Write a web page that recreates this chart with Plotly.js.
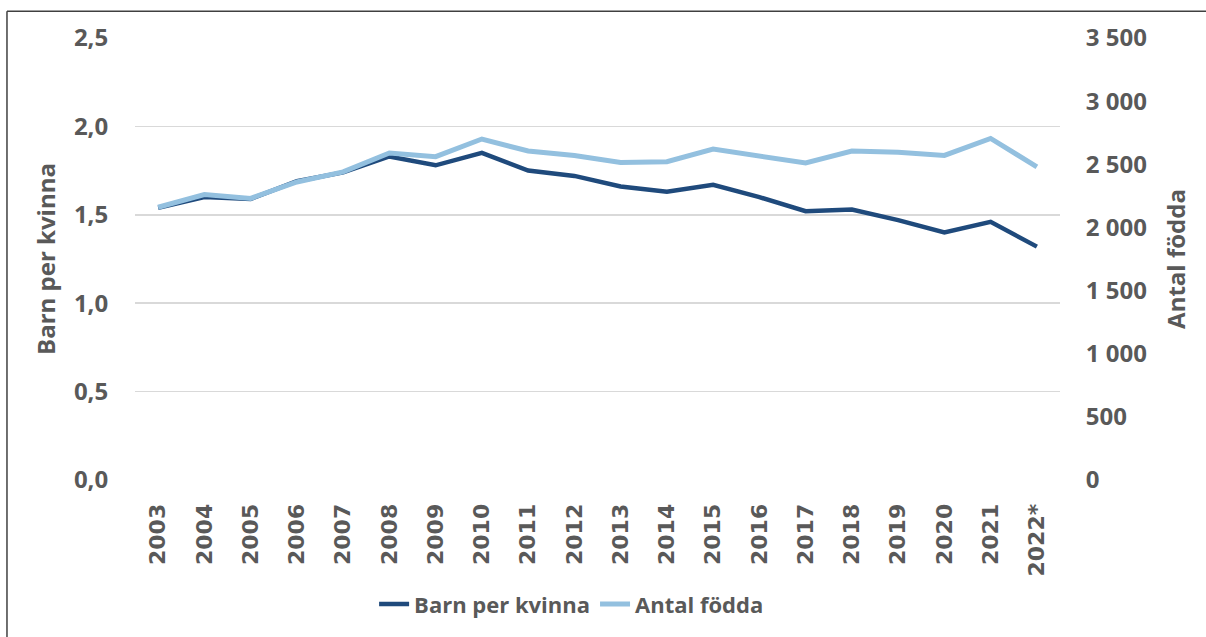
<!DOCTYPE html>
<html>
<head>
<meta charset="utf-8">
<script src="https://cdn.plot.ly/plotly-3.0.1.min.js"></script>
<style>
html,body{margin:0;padding:0;background:#fff;}
#chart{width:1206px;height:637px;}
</style>
</head>
<body>
<div id="chart"></div>
<script>
const years = ["2003","2004","2005","2006","2007","2008","2009","2010","2011","2012","2013","2014","2015","2016","2017","2018","2019","2020","2021","2022*"];
const barnPerKvinna = [1.54,1.60,1.59,1.69,1.74,1.83,1.78,1.85,1.75,1.72,1.66,1.63,1.67,1.60,1.52,1.53,1.47,1.40,1.46,1.32];
const antalFodda = [2160,2260,2230,2360,2440,2590,2560,2700,2605,2570,2515,2520,2620,2565,2510,2605,2595,2570,2705,2480];
const leftTicks = [0,0.5,1.0,1.5,2.0,2.5];
const rightTicks = [0,500,1000,1500,2000,2500,3000,3500];

const gray = '#595959';
const fam = '"Open Sans", "Liberation Sans", sans-serif';
const tickFont = {family:fam, size:24, color:gray, weight:'bold'};

const traces = [
  {x: years, y: barnPerKvinna, name:'Barn per kvinna', type:'scatter', mode:'lines',
   line:{color:'#1f4a7c', width:4.5}, yaxis:'y'},
  {x: years, y: antalFodda, name:'Antal födda', type:'scatter', mode:'lines',
   line:{color:'#93c0df', width:5}, yaxis:'y2'}
];

const layout = {
  width:1206, height:637,
  margin:{l:135, r:146, t:38, b:154},
  paper_bgcolor:'#fff', plot_bgcolor:'#fff',
  separators:', ',
  showlegend:true,
  legend:{orientation:'h', x:0.472, xanchor:'center', y:-0.281, yanchor:'middle',
          font:{family:fam, size:22, color:gray, weight:'bold'},
          itemwidth:30},
  xaxis:{type:'category', range:[-0.5,19.5], tickangle:-90, showgrid:false, zeroline:false,
         showline:false, ticks:'outside', ticklen:14, tickcolor:'rgba(0,0,0,0)',
         tickfont:{family:'"DejaVu Sans", sans-serif', size:22, color:gray, weight:'bold'}},
  yaxis:{range:[0,2.5], tickvals:leftTicks, tickformat:'.1f', showgrid:true, gridcolor:'#d9d9d9', gridwidth:1.5,
         zeroline:false, showline:false, ticks:'outside', ticklen:21, tickcolor:'rgba(0,0,0,0)',
         tickfont:tickFont,
         title:{text:'Barn per kvinna', standoff:11, font:{family:fam, size:24, color:gray, weight:'bold'}}},
  yaxis2:{range:[0,3500], tickvals:rightTicks, tickformat:',d', overlaying:'y', side:'right', showgrid:false,
          zeroline:false, showline:false, ticks:'outside', ticklen:20, tickcolor:'rgba(0,0,0,0)',
          tickfont:tickFont,
          title:{text:'Antal födda', standoff:22, font:{family:fam, size:24, color:gray, weight:'bold'}}},
  shapes:[
    {type:'line', xref:'paper', yref:'paper', x0:-0.1384, x1:-0.1384, y0:1.0607, y1:-0.36, line:{color:'#404040', width:1.5}},
    {type:'line', xref:'paper', yref:'paper', x0:-0.1384, x1:1.16, y0:1.0607, y1:1.0607, line:{color:'#404040', width:1.5}}
  ]
};

Plotly.newPlot('chart', traces, layout, {displayModeBar:false, staticPlot:true});
</script>
</body>
</html>
